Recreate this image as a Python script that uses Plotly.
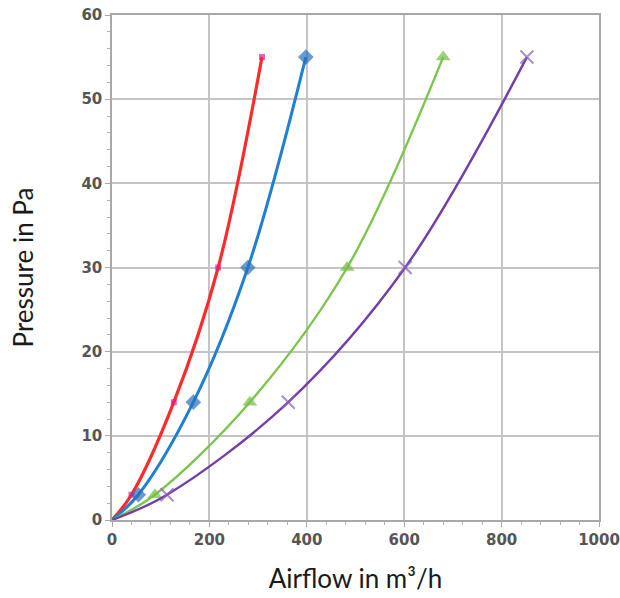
import plotly.graph_objects as go

pressure = [0, 3, 14, 30, 55]
airflow_red = [0, 40, 127, 218, 308]
airflow_blue = [0, 54, 167, 279, 398]
airflow_green = [0, 88, 283, 483, 680]
airflow_purple = [0, 113, 362, 602, 852]

x_ticks = [0, 200, 400, 600, 800, 1000]
y_ticks = [0, 10, 20, 30, 40, 50, 60]

series = [
    (airflow_red, "#ff2a2a", 3.2, "square", 6, "#e0208a"),
    (airflow_blue, "#1f7fd0", 3.0, "diamond", 12, "#2a6fb8"),
    (airflow_green, "#7cc54c", 2.4, "triangle-up", 13, "#72bd44"),
    (airflow_purple, "#7040a8", 2.4, "x-thin", 13, "#8860b8"),
]

fig = go.Figure()
for xs, col, lw, sym, ms, mcol in series:
    fig.add_trace(go.Scatter(
        x=xs, y=pressure, mode="lines+markers",
        line=dict(color=col, width=lw, shape="spline", smoothing=1.0),
        marker=dict(symbol=sym, size=[0] + [ms] * (len(xs) - 1), color=mcol,
                    line=dict(color=mcol, width=2 if sym == "x-thin" else 0)),
        showlegend=False,
    ))

tickfont = dict(family="DejaVu Sans", size=15, color="#555555", weight="bold")
titlefont = dict(family="Lato, Open Sans", size=26, color="#1a1a1a")
fig.update_layout(
    width=620, height=598,
    margin=dict(l=112, r=21, t=15, b=78),
    paper_bgcolor="white", plot_bgcolor="white",
    xaxis=dict(
        range=[0, 1000], tickvals=x_ticks, ticktext=[str(v) for v in x_ticks],
        showgrid=True, gridcolor="#c4c4c4", gridwidth=1.5,
        showline=True, linecolor="#a8a8a8", linewidth=1.5, mirror=True,
        ticks="outside", ticklen=5, tickcolor="#a8a8a8",
        minor=dict(dtick=40, ticks="outside", ticklen=3, tickcolor="#b0b0b0", showgrid=False),
        tickfont=tickfont, zeroline=False, automargin=False, ticklabeloverflow="allow",
        title=dict(text="Airflow in m³/h", font=titlefont, standoff=22),
    ),
    yaxis=dict(
        range=[0, 60], tickvals=y_ticks, ticktext=[str(v) for v in y_ticks],
        showgrid=True, gridcolor="#c4c4c4", gridwidth=1.5,
        showline=True, linecolor="#a8a8a8", linewidth=1.5, mirror=True,
        ticks="outside", ticklen=5, tickcolor="#a8a8a8",
        minor=dict(dtick=2, ticks="outside", ticklen=3, tickcolor="#b0b0b0", showgrid=False),
        tickfont=tickfont, zeroline=False, automargin=False, ticklabeloverflow="allow",
        title=dict(text="Pressure in Pa", font=titlefont, standoff=40),
    ),
)

fig.write_html("out.html", config={"displayModeBar": False},
               post_script="document.body.style.margin='0px';")
